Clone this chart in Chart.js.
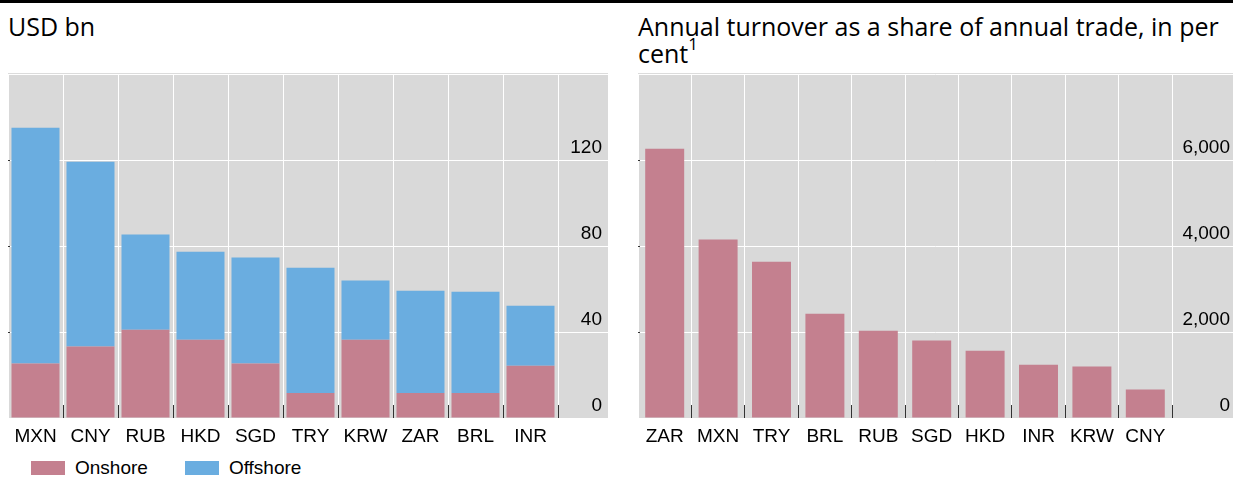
<!DOCTYPE html>
<html>
<head>
<meta charset="utf-8">
<script src="https://cdn.jsdelivr.net/npm/chart.js@4.4.0/dist/chart.umd.min.js"></script>
<style>
  body { margin: 0; width: 1233px; height: 477px; position: relative; overflow: hidden; background: #fff; }
  .top-rule { position: absolute; left: 0; top: 0; width: 1233px; height: 3px; background: #000; }
  .title { position: absolute; top: 13px; font-family: 'Open Sans', 'Noto Sans', sans-serif; font-size: 25px; line-height: 26.5px; color: #000; white-space: nowrap; }
  .title sup { font-size: 17px; line-height: 0; vertical-align: 13px; }
  .hairline { position: absolute; top: 73px; height: 1px; background: #dcdcdc; }
  .panel { position: absolute; top: 74px; }
  .panel canvas { display: block; }
  #legend { position: absolute; left: 31px; top: 458px; display: flex; align-items: center; font-family: 'Liberation Sans', Arial, sans-serif; font-size: 19px; line-height: 19px; color: #000; }
  #legend .item { display: flex; align-items: center; margin-right: 37px; }
  #legend .swatch { width: 34px; height: 14px; margin-right: 10px; }
</style>
</head>
<body>
<div class="top-rule"></div>
<div class="title" style="left: 8px;">USD bn</div>
<div class="title" style="left: 638px;">Annual turnover as a share of annual trade, in per<br>cent<sup>1</sup></div>
<div class="hairline" style="left: 8px; width: 600px;"></div>
<div class="hairline" style="left: 638px; width: 595px;"></div>
<div class="panel" style="left: 8px;"><canvas id="usd-chart" width="600" height="374"></canvas></div>
<div class="panel" style="left: 638px;"><canvas id="share-chart" width="595" height="374"></canvas></div>
<div id="legend"></div>
<script>
(function(){
  'use strict';

  // left panel: turnover by currency, USD bn
  const currencies = ['MXN', 'CNY', 'RUB', 'HKD', 'SGD', 'TRY', 'KRW', 'ZAR', 'BRL', 'INR'];
  const onshore = [25.3, 33.2, 41.1, 36.4, 25.3, 11.6, 36.4, 11.6, 11.6, 24.3];
  const offshore = [109.7, 86.0, 44.2, 40.9, 49.3, 58.3, 27.5, 47.6, 47.1, 27.9];
  const usdTicks = [0, 40, 80, 120, 160];

  // right panel: turnover as share of trade, per cent
  const shareCurrencies = ['ZAR', 'MXN', 'TRY', 'BRL', 'RUB', 'SGD', 'HKD', 'INR', 'KRW', 'CNY'];
  const shareOfTrade = [6260, 4150, 3635, 2425, 2030, 1800, 1565, 1240, 1195, 660];
  const shareTicks = [0, 2000, 4000, 6000, 8000];

  const PINK = '#c4808f';
  const BLUE = '#6aade0';
  const PLOT_GRAY = '#d9d9d9';

  Chart.defaults.font.family = "'Liberation Sans', Arial, sans-serif";
  Chart.defaults.font.size = 19;
  Chart.defaults.color = '#000';

  const plotBackground = {
    id: 'plotBackground',
    beforeDraw(chart) {
      const { ctx, chartArea: a } = chart;
      ctx.save();
      ctx.fillStyle = PLOT_GRAY;
      ctx.fillRect(a.left, a.top, a.width, a.height);
      ctx.restore();
    }
  };

  // short dark ticks between the columns, and tiny marks on the left edge
  const columnTicks = {
    id: 'columnTicks',
    afterDatasetsDraw(chart) {
      const { ctx, scales: { x, y } } = chart;
      const n = chart.data.datasets[0].data.length;
      ctx.save();
      ctx.strokeStyle = '#333';
      ctx.lineWidth = 1;
      ctx.beginPath();
      for (let i = 0; i < n; i++) {
        const px = Math.round(x.getPixelForValue(i + 0.5) - 0.5) + 0.5;
        ctx.moveTo(px, y.bottom);
        ctx.lineTo(px, y.bottom - 13);
      }
      y.ticks.forEach((t, i) => {
        if (i === 0 || i === y.ticks.length - 1) return;
        const py = Math.round(y.getPixelForValue(t.value) - 0.5) + 0.5;
        ctx.moveTo(x.left, py);
        ctx.lineTo(x.left + 2, py);
      });
      ctx.stroke();
      ctx.restore();
    }
  };

  function indexAxis(labels, max) {
    return {
      type: 'linear',
      min: -0.5,
      max,
      offset: false,
      afterBuildTicks: (s) => { s.ticks = labels.map((_, i) => ({ value: i })); },
      afterFit: (s) => { s.height = 30; s.paddingLeft = 0; s.paddingRight = 0; },
      grid: { color: '#fff', lineWidth: 1, offset: true, drawTicks: false },
      border: { display: false },
      ticks: { autoSkip: false, maxRotation: 0, padding: 7, callback: (v) => labels[v] }
    };
  }

  // labels sit inside the plot, right-aligned, just above their grid line
  function valueAxis(tickValues, inset, format) {
    return {
      type: 'linear',
      position: 'right',
      min: tickValues[0],
      max: tickValues[tickValues.length - 1],
      stacked: true,
      afterBuildTicks: (s) => { s.ticks = tickValues.map((v) => ({ value: v })); },
      afterFit: (s) => { s.width = 0; s.paddingTop = 0; s.paddingBottom = 0; },
      grid: {
        color: (c) => (c.tick && c.tick.value === tickValues[0]) ? 'rgba(0,0,0,0)' : '#fff',
        lineWidth: 1,
        drawTicks: false
      },
      border: { display: false },
      ticks: {
        mirror: true,
        padding: -inset,
        labelOffset: -12,
        callback: (v, i, arr) => (i === arr.length - 1 ? '' : format(v))
      }
    };
  }

  const asPoints = (values) => values.map((v, i) => ({ x: i, y: v }));

  function drawUsdChart() {
    const ctx = document.getElementById('usd-chart').getContext('2d');
    return new Chart(ctx, {
      type: 'bar',
      data: {
        datasets: [
          { label: 'Onshore', data: asPoints(onshore), backgroundColor: PINK, grouped: false },
          { label: 'Offshore', data: asPoints(offshore), backgroundColor: BLUE, grouped: false }
        ]
      },
      options: {
        responsive: false,
        animation: false,
        categoryPercentage: 1,
        barPercentage: 0.873,
        layout: { padding: 0 },
        scales: {
          x: indexAxis(currencies, -0.5 + 600 / 55),
          y: valueAxis(usdTicks, 6, (v) => String(v))
        },
        plugins: { legend: { display: false }, tooltip: { enabled: false } }
      },
      plugins: [plotBackground, columnTicks]
    });
  }

  function drawShareChart() {
    const ctx = document.getElementById('share-chart').getContext('2d');
    return new Chart(ctx, {
      type: 'bar',
      data: {
        datasets: [
          { label: 'Share of trade', data: asPoints(shareOfTrade), backgroundColor: PINK, grouped: false }
        ]
      },
      options: {
        responsive: false,
        animation: false,
        categoryPercentage: 1,
        barPercentage: 0.73,
        layout: { padding: 0 },
        scales: {
          x: indexAxis(shareCurrencies, -0.5 + 595 / 53.4),
          y: valueAxis(shareTicks, 3, (v) => v.toLocaleString('en-US'))
        },
        plugins: { legend: { display: false }, tooltip: { enabled: false } }
      },
      plugins: [plotBackground, columnTicks]
    });
  }

  function fillLegend(chart) {
    const legend = document.getElementById('legend');
    chart.data.datasets.forEach((ds) => {
      const item = document.createElement('div');
      item.className = 'item';
      item.innerHTML = `<span class="swatch" style="background:${ds.backgroundColor}"></span><span>${ds.label}</span>`;
      legend.appendChild(item);
    });
  }

  const usdChart = drawUsdChart();
  drawShareChart();
  fillLegend(usdChart);
})();
</script>
</body>
</html>
